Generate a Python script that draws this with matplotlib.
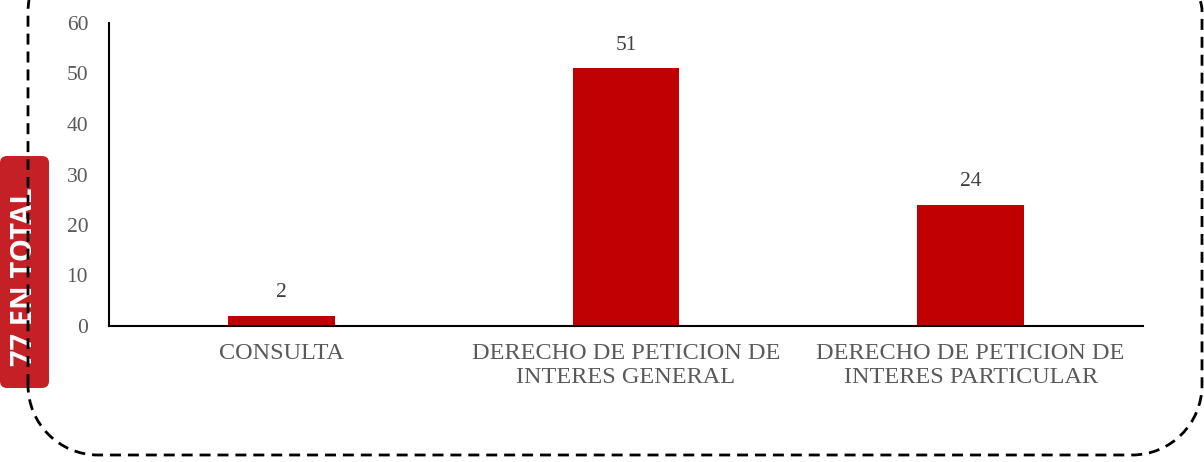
import matplotlib
matplotlib.use("Agg")
import matplotlib.pyplot as plt
from matplotlib.patches import FancyBboxPatch
from matplotlib.path import Path
from matplotlib.patches import PathPatch
import numpy as np

categories = ["CONSULTA", "DERECHO DE PETICION DE\nINTERES GENERAL", "DERECHO DE PETICION DE\nINTERES PARTICULAR"]
values = [2, 51, 24]
yticks = [0, 10, 20, 30, 40, 50, 60]
total_label = "77 EN TOTAL"

W, H = 1204, 462
fig = plt.figure(figsize=(W / 100, H / 100), dpi=100)

serif = ["Liberation Serif", "DejaVu Serif"]

ax = fig.add_axes([109 / W, 1 - 326 / H, (1143 - 109) / W, (326 - 23) / H])
x = np.arange(len(categories))
bars = ax.bar(x, values, width=0.31, color="#C00000", zorder=2)
ax.set_xlim(-0.5, len(categories) - 0.5)
ax.set_ylim(0, 60)
ax.set_yticks(yticks)
ax.set_xticks(x)
ax.set_xticklabels(categories, fontsize=17.5, color="#595959", family=serif, linespacing=1.22)
ax.tick_params(axis="x", length=0, pad=12)
ax.tick_params(axis="y", length=0, pad=15, labelsize=15.5, labelcolor="#595959")
for lbl in ax.get_yticklabels():
    lbl.set_family(serif)
for s in ["top", "right"]:
    ax.spines[s].set_visible(False)
for s in ["left", "bottom"]:
    ax.spines[s].set_linewidth(1.5)
    ax.spines[s].set_color("black")
for xi, v in zip(x, values):
    ax.annotate(str(v), (xi, v), xytext=(0, 10), textcoords="offset points",
                ha="center", va="bottom", fontsize=15.5, color="#404040", family=serif)

# overlay in pixel coordinates
ov = fig.add_axes([0, 0, 1, 1], zorder=5)
ov.set_xlim(0, W)
ov.set_ylim(H, 0)
ov.axis("off")
ov.patch.set_alpha(0)

# red label box
box = FancyBboxPatch((0, 156), 49, 232, boxstyle="round,pad=0,rounding_size=7",
                     facecolor="#C42026", edgecolor="none", zorder=1)
ov.add_patch(box)
ov.text(25, 277, total_label, rotation=90, ha="center", va="center", color="white",
        fontsize=21, fontweight="bold", family=["Open Sans", "DejaVu Sans"], zorder=2)

# dashed rounded border
left, right, top, bottom, r = 28, 1202, -58, 455, 70
k = 0.5523
verts = [
    (left, bottom - r),
    (left, top + r),
    (left, top + r - k * r), (left + r - k * r, top), (left + r, top),
    (right - r, top),
    (right - r + k * r, top), (right, top + r - k * r), (right, top + r),
    (right, bottom - r),
    (right, bottom - r + k * r), (right - r + k * r, bottom), (right - r, bottom),
    (left + r, bottom),
    (left + r - k * r, bottom), (left, bottom - r + k * r), (left, bottom - r),
]
codes = [Path.MOVETO, Path.LINETO,
         Path.CURVE4, Path.CURVE4, Path.CURVE4,
         Path.LINETO,
         Path.CURVE4, Path.CURVE4, Path.CURVE4,
         Path.LINETO,
         Path.CURVE4, Path.CURVE4, Path.CURVE4,
         Path.LINETO,
         Path.CURVE4, Path.CURVE4, Path.CURVE4]
border = PathPatch(Path(verts, codes), facecolor="none", edgecolor="black",
                   linewidth=2.0, linestyle=(0, (3.95, 2.5)), zorder=3)
ov.add_patch(border)

fig.savefig("out.png", dpi=100)
